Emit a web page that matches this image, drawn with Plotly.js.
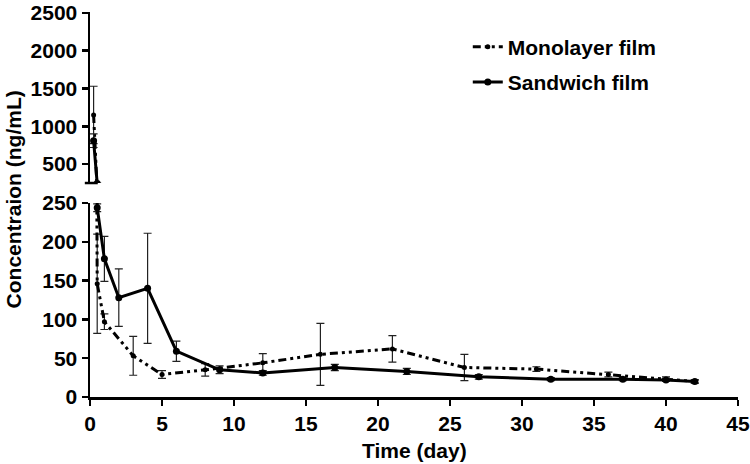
<!DOCTYPE html>
<html><head><meta charset="utf-8">
<script src="https://cdn.plot.ly/plotly-3.0.1.min.js"></script>
<style>html,body{margin:0;padding:0;background:#fff}#chart{width:750px;height:464px}</style>
</head><body><div id="chart"></div>
<script>
// Data
const monoTime = [0.25, 0.5, 1, 3, 5, 8, 12, 16, 21, 26, 31, 36, 40, 42];
const monoConc = [1150, 146, 97, 53, 29, 35, 44, 55, 62, 38, 36, 29, 23, 20];
const monoErr  = [380, 64, 10, 25, 5, 8, 12, 40, 17, 17, 3, 3, 3, 2];

const sandTime = [0.25, 0.5, 1, 2, 4, 6, 9, 12, 17, 22, 27, 32, 37, 40, 42];
const sandConc = [810, 244, 178, 128, 140, 59, 35, 31, 38, 33, 26, 23, 23, 22, 20];
const sandErr  = [90, 5, 29, 37, 71, 13, 5, 3, 4, 4, 3, 2, 2, 2, 2];

const xTicks = [0, 5, 10, 15, 20, 25, 30, 35, 40, 45];
const yLowTicks = [0, 50, 100, 150, 200, 250];
const yHighTicks = [500, 1000, 1500, 2000, 2500];
const seriesNames = ["Monolayer film", "Sandwich film"];

const FONT = "Liberation Sans, Arial, Helvetica, sans-serif";
const monoDash = "8px,4px,3px,4px,3px,4px";

function mk(name, x, y, err, dash, msize, yaxis, show, grp) {
  return {
    type: "scatter", mode: "lines+markers", name: name, x: x, y: y,
    xaxis: "x", yaxis: yaxis, showlegend: show, legendgroup: grp,
    line: {color: "#000", width: 3, dash: dash},
    marker: {color: "#000", size: msize, symbol: "circle"},
    error_y: {type: "data", array: err, visible: true, color: "#222", thickness: 1.2, width: 4},
    cliponaxis: true
  };
}

const traces = [
  mk(seriesNames[0], monoTime, monoConc, monoErr, monoDash, 5, "y", true, "g1"),
  mk(seriesNames[0], monoTime, monoConc, monoErr, monoDash, 5, "y2", false, "g1"),
  mk(seriesNames[1], sandTime, sandConc, sandErr, "solid", 7, "y", true, "g2"),
  mk(seriesNames[1], sandTime, sandConc, sandErr, "solid", 7, "y2", false, "g2")
];

const tickFont = {family: FONT, size: 21, color: "#000", weight: "bold"};
const axisCommon = {
  showline: true, linecolor: "#000", linewidth: 2.5, ticks: "outside", ticklen: 6,
  tickwidth: 2.5, tickcolor: "#000", showgrid: false, zeroline: false, tickfont: tickFont,
  ticklabeloverflow: "allow"
};

const layout = {
  width: 750, height: 464,
  margin: {l: 90, r: 12, t: 12, b: 67},
  paper_bgcolor: "#fff", plot_bgcolor: "rgba(0,0,0,0)",
  showlegend: true,
  legend: {x: 0.583, y: 0.962, xanchor: "left", yanchor: "top", bgcolor: "rgba(0,0,0,0)",
           font: {family: FONT, size: 21, color: "#000", weight: "bold"}, itemwidth: 30,
           tracegroupgap: 5},
  xaxis: Object.assign({}, axisCommon, {range: [0, 45], tickvals: xTicks, ticktext: xTicks.map(String),
           anchor: "y", domain: [0, 1]}),
  yaxis: Object.assign({}, axisCommon, {range: [0, 250], tickvals: yLowTicks, ticktext: yLowTicks.map(String),
           domain: [0, 0.5039], anchor: "x"}),
  yaxis2: Object.assign({}, axisCommon, {range: [250, 2512], tickvals: yHighTicks, ticktext: yHighTicks.map(String),
           domain: [0.5558, 1], anchor: "x"}),
  shapes: [
    {type: "line", xref: "paper", yref: "paper", x0: -0.008, x1: 0.012, y0: 0.5558, y1: 0.5558,
     line: {color: "#000", width: 2.5}}
  ],
  annotations: [
    {text: "Concentraion (ng/mL)", xref: "paper", yref: "paper", x: -0.118, y: 0.512,
     xanchor: "center", yanchor: "middle",
     textangle: -90, showarrow: false, font: {family: FONT, size: 21, color: "#000", weight: "bold"}},
    {text: "Time (day)", xref: "paper", yref: "paper", x: 0.5, y: -0.14, xanchor: "center", yanchor: "middle",
     showarrow: false, font: {family: FONT, size: 21, color: "#000", weight: "bold"}}
  ]
};

Plotly.newPlot("chart", traces, layout, {displayModeBar: false, staticPlot: true});
</script></body></html>
